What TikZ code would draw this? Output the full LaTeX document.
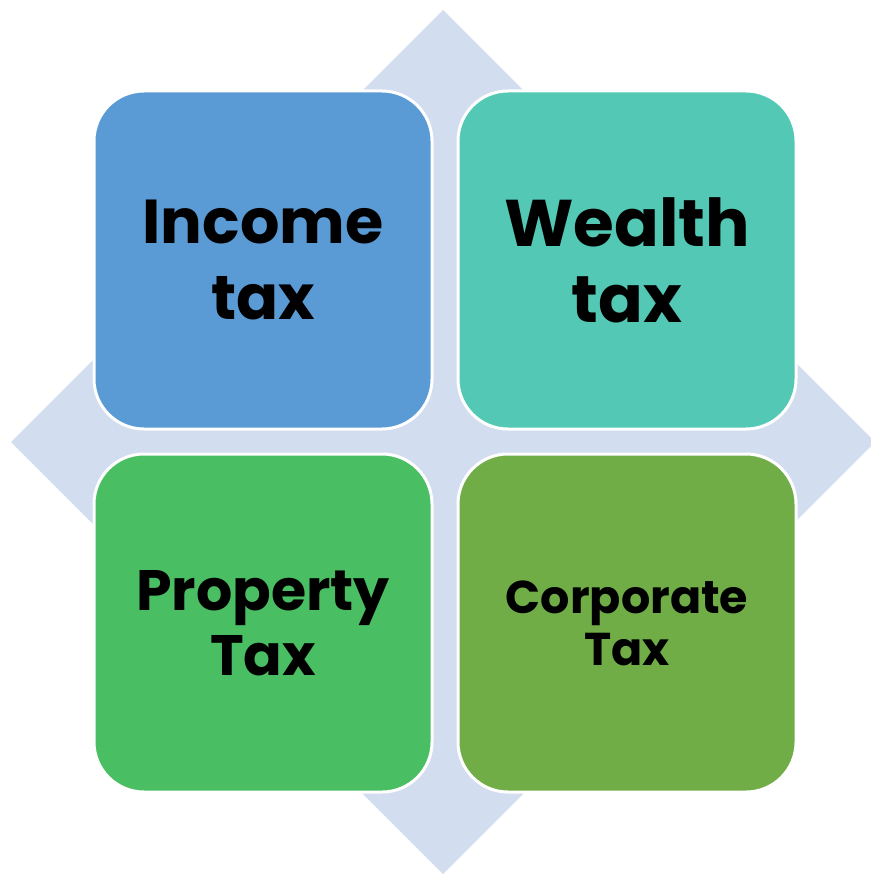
\documentclass[tikz,border=0pt]{standalone}
\usepackage{fontspec}
\setmainfont{Poppins}
\definecolor{diamondc}{RGB}{210,222,239}
\definecolor{incomec}{RGB}{91,155,213}
\definecolor{wealthc}{RGB}{83,201,181}
\definecolor{propertyc}{RGB}{74,190,99}
\definecolor{corpc}{RGB}{112,173,71}
\begin{document}
\begin{tikzpicture}[x=1pt,y=-1pt,
  tile/.style={draw=white, line width=3pt, rounded corners=50pt,
    minimum width=338pt, minimum height=338pt, inner sep=0pt,
    align=center, text=black}]
\useasboundingbox (0,0) rectangle (870,874);
\fill[diamondc] (443,10) -- (875,442) -- (443,874) -- (11,442) -- cycle;
\node[tile, fill=incomec, font=\bfseries\fontsize{62}{76}\selectfont] (income) at (263,260) {Income\\tax};
\node[tile, fill=wealthc, font=\bfseries\fontsize{66}{76}\selectfont] (wealth) at (627,260) {Wealth\\tax};
\node[tile, fill=propertyc, font=\bfseries\fontsize{57}{65}\selectfont] (property) at (263,623) {Property\\Tax};
\node[tile, fill=corpc, font=\bfseries\fontsize{46}{52}\selectfont] (corporate) at (627,623) {Corporate\\Tax};
\end{tikzpicture}
\end{document}
